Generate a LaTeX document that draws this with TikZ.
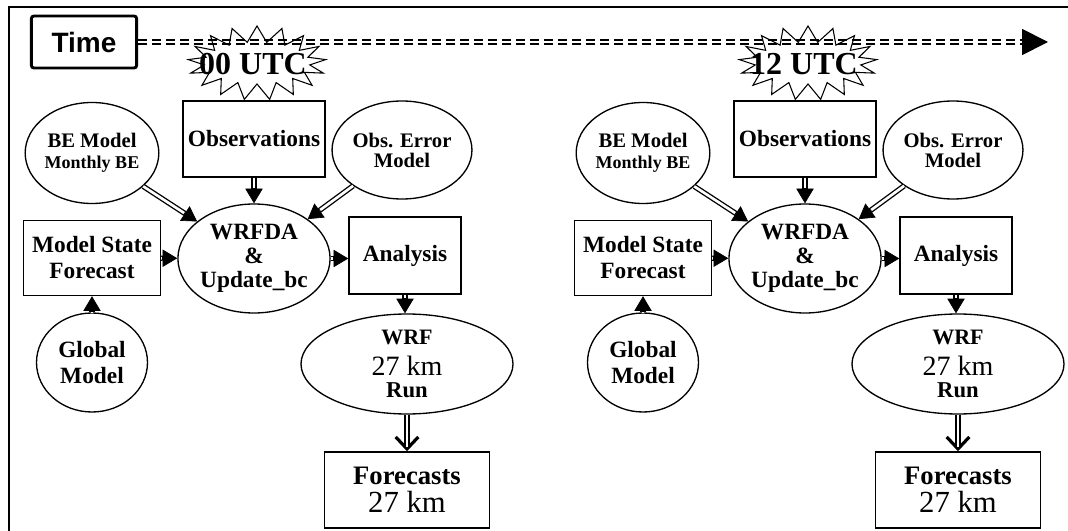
\documentclass[tikz,border=0pt]{standalone}
\usepackage{fontspec}
\setmainfont{Liberation Serif}
\newfontfamily\arialfont{Liberation Sans}
\usetikzlibrary{shapes.geometric,shapes.symbols,arrows.meta}
\tikzset{
  boxnode/.style={draw, line width=1.1pt, inner sep=0pt, align=center},
  ovalnode/.style={ellipse, draw, line width=1pt, inner sep=0pt, align=center},
  dblarrow/.style={line width=4pt, -{Triangle[length=11pt 0 0,width=13pt 0 0,line width=0.5pt]},
     postaction={draw=white, line width=2pt, -, shorten >=11.6pt}},
  vbarb/.style={line width=4pt, -{Straight Barb[length=9pt 0 0,width=17pt 0 0,line width=2.4pt]},
     postaction={draw=white, line width=2pt, -, shorten >=3pt}},
  starnode/.style={starburst, draw, line width=0.8pt, starburst points=17, starburst point height=12pt, inner sep=0pt,
     random starburst=0, minimum width=103.5pt, minimum height=55.5pt},
  startext/.style={font=\bfseries\fontsize{24}{24}\selectfont, inner sep=0pt},
  bigf/.style={font=\bfseries\fontsize{17.5}{19.5}\selectfont}
}
\newcommand\wrfblock[3]{%
\begin{scope}[shift={(#2,0)}]
  \node[starnode] (star#1) at (257,63) {};
  \node[startext] (stl#1) at (253,64) {#3};
  \node[boxnode, bigf, minimum width=106.5pt, minimum height=57pt] (obs#1) at (254,139) {Observations};
  \node[ovalnode, minimum width=88.5pt, minimum height=75.75pt, font=\bfseries\fontsize{15.5}{15.5}\selectfont] (be#1) at (92,153)
     {BE Model\\{\fontsize{13.5}{15.5}\selectfont Monthly BE}};
  \node[ovalnode, minimum width=85.5pt, minimum height=73.5pt, font=\bfseries\fontsize{15.5}{15}\selectfont] (oe#1) at (402,150)
     {Obs. Error\\Model};
  \node[boxnode, bigf, minimum width=102.75pt, minimum height=56.25pt] (ms#1) at (92,258) {Model State\\Forecast};
  \node[ovalnode, minimum width=100.5pt, minimum height=81.75pt, font=\bfseries\fontsize{17.5}{18}\selectfont] (da#1) at (254,258.5)
     {WRFDA\\\&\\Update\_bc};
  \node[boxnode, bigf, minimum width=84pt, minimum height=57.75pt] (an#1) at (405,255.5) {Analysis};
  \node[ovalnode, minimum width=159pt, minimum height=75pt, font=\bfseries\fontsize{17}{17}\selectfont] (wrf#1) at (407,364)
     {{\fontsize{16.5}{17}\selectfont WRF}\\[6pt]{\mdseries\fontsize{21}{17}\selectfont 27 km}\\{Run}};
  \node[boxnode, minimum width=123.75pt, minimum height=57pt, font=\fontsize{20}{20}\selectfont] (fc#1) at (407,490)
     {{\bfseries Forecasts}\\[1pt]{\fontsize{23}{20}\selectfont 27 km}};
  \node[ovalnode, bigf, minimum width=83.25pt, minimum height=74.25pt] (gm#1) at (92,362.5) {Global\\Model};
  \draw[dblarrow] (be#1) -- (da#1);
  \draw[dblarrow] (oe#1) -- (da#1);
  \draw[dblarrow] (obs#1) -- (da#1);
  \draw[dblarrow] (ms#1) -- (da#1);
  \draw[dblarrow] (da#1.east) -- (da#1.east -| an#1.west);
  \draw[dblarrow] (an#1.south) -- (an#1.south |- wrf#1.north);
  \draw[vbarb] (wrf#1) -- (fc#1);
  \draw[dblarrow] (gm#1) -- (ms#1);
\end{scope}}
\begin{document}
\begin{tikzpicture}[x=0.75pt,y=-0.75pt]
  \useasboundingbox (0,0) rectangle (1068,531);
  \draw[line width=1.8pt] (9,531) -- (9,7) -- (1068,7);
  \node[draw, line width=2.2pt, rounded corners=2pt, minimum width=79pt, minimum height=39pt, inner sep=0pt,
        font=\arialfont\bfseries\fontsize{21}{21}\selectfont] (time) at (84,42) {Time};
  \coordinate (tend) at (1048,42);
  \draw[line width=1.4pt, double distance=2.2pt, dash pattern=on 6.75pt off 3.75pt,
        -{Triangle[length=19.5pt 0 0,width=19.5pt 0 0]}] (time) -- (tend);
  \wrfblock{a}{0}{00 UTC}
  \wrfblock{b}{551}{12 UTC}
\end{tikzpicture}
\end{document}
